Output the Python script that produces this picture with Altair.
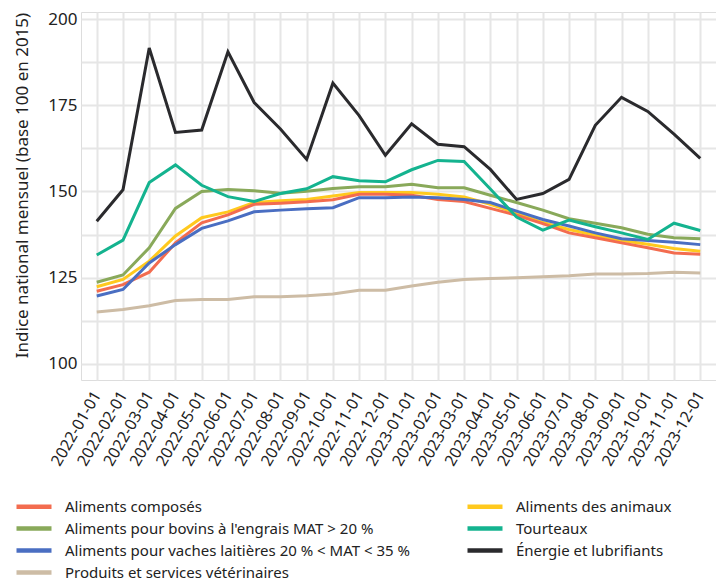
import altair as alt
import pandas as pd

mois = [
    "2022-01-01", "2022-02-01", "2022-03-01", "2022-04-01", "2022-05-01", "2022-06-01",
    "2022-07-01", "2022-08-01", "2022-09-01", "2022-10-01", "2022-11-01", "2022-12-01",
    "2023-01-01", "2023-02-01", "2023-03-01", "2023-04-01", "2023-05-01", "2023-06-01",
    "2023-07-01", "2023-08-01", "2023-09-01", "2023-10-01", "2023-11-01", "2023-12-01",
]

aliments_composes = [121.1, 123.0, 126.6, 135.1, 140.9, 143.2, 146.3, 146.6, 147.0, 147.6, 149.2, 149.2,
                     148.9, 147.7, 147.1, 145.1, 143.1, 140.7, 138.0, 136.6, 135.1, 133.7, 132.2, 131.8]
aliments_animaux = [122.4, 124.5, 129.8, 137.1, 142.4, 144.1, 146.8, 147.3, 147.7, 148.7, 149.7, 149.7,
                    149.7, 149.2, 148.4, 146.3, 143.7, 141.0, 139.0, 137.3, 135.8, 134.7, 133.5, 132.7]
aliments_bovins = [123.7, 125.8, 133.7, 145.1, 150.0, 150.6, 150.2, 149.5, 150.1, 150.9, 151.4, 151.4,
                   152.1, 151.1, 151.1, 148.9, 146.8, 144.6, 142.1, 140.8, 139.5, 137.6, 136.6, 136.3]
aliments_vaches = [119.7, 121.6, 129.3, 134.6, 139.3, 141.5, 144.1, 144.6, 145.0, 145.3, 148.2, 148.2,
                   148.4, 148.2, 147.7, 146.8, 144.3, 141.9, 140.0, 138.0, 136.3, 135.8, 135.3, 134.6]
veterinaires = [115.1, 115.8, 116.9, 118.4, 118.7, 118.7, 119.5, 119.5, 119.8, 120.3, 121.4, 121.4,
                122.6, 123.7, 124.5, 124.8, 125.0, 125.3, 125.6, 126.1, 126.1, 126.2, 126.6, 126.4]
tourteaux = [131.6, 135.9, 152.6, 157.7, 151.8, 148.5, 147.1, 149.4, 150.8, 154.3, 153.1, 152.8,
             156.3, 159.0, 158.7, 150.7, 142.6, 138.8, 141.7, 139.8, 138.0, 136.1, 140.8, 138.7]
energie = [141.4, 150.5, 191.6, 167.1, 167.8, 190.5, 175.8, 168.1, 159.3, 181.4, 172.0, 160.5,
           169.6, 163.7, 163.0, 156.4, 147.7, 149.4, 153.5, 169.2, 177.3, 173.2, 166.6, 159.6]

S_COMP = "Aliments composés"
S_ANIM = "Aliments des animaux"
S_BOV = "Aliments pour bovins à l'engrais MAT > 20 %"
S_TOUR = "Tourteaux"
S_VACH = "Aliments pour vaches laitières 20 % < MAT < 35 %"
S_ENER = "Énergie et lubrifiants"
S_VET = "Produits et services vétérinaires"

series = {
    S_COMP: aliments_composes,
    S_ANIM: aliments_animaux,
    S_BOV: aliments_bovins,
    S_VACH: aliments_vaches,
    S_VET: veterinaires,
    S_TOUR: tourteaux,
    S_ENER: energie,
}

# legend is filled column by column (4 rows)
legend_order = [S_COMP, S_BOV, S_VACH, S_VET, S_ANIM, S_TOUR, S_ENER]
colors = ["#F36C4F", "#89A95A", "#4A6EC2", "#CDBCA5", "#FFC91E", "#14B38F", "#2A2A2D"]
draw_order = [S_BOV, S_ANIM, S_COMP, S_VACH, S_VET, S_TOUR, S_ENER]

rows = []
for name, vals in series.items():
    for m, v in zip(mois, vals):
        rows.append({"mois": m, "valeur": v, "serie": name})
df = pd.DataFrame(rows)

grid_color = "#E6E6E6"
txt_color = "#222222"
y_grid_values = [100, 112.5, 125, 137.5, 150, 162.5, 175, 187.5, 200]

base = alt.Chart(df).mark_line(strokeWidth=3).encode(
    x=alt.X(
        "mois:O",
        sort=mois,
        scale=alt.Scale(type="point", padding=0.6),
        axis=alt.Axis(
            title=None, labelAngle=-60, labelAlign="right", labelBaseline="middle",
            labelPadding=12, ticks=False, domain=False, grid=True,
            gridColor=grid_color, gridWidth=2, labelFontSize=16, labelColor=txt_color,
        ),
    ),
    y=alt.Y(
        "valeur:Q",
        scale=alt.Scale(domain=[95.36, 202.03], nice=False, zero=False),
        axis=alt.Axis(
            title="Indice national mensuel (base 100 en 2015)",
            values=y_grid_values,
            labelExpr="datum.value % 25 == 0 ? datum.label : ''",
            ticks=False, domain=False, grid=True, gridColor=grid_color, gridWidth=2,
            labelFontSize=17, labelColor=txt_color, labelPadding=4,
            titleFontSize=17, titleFontWeight="normal", titleColor=txt_color, titlePadding=16,
            titleY=173,
        ),
    ),
    color=alt.Color(
        "serie:N",
        scale=alt.Scale(domain=legend_order, range=colors),
        legend=alt.Legend(
            title=None, orient="none", legendX=-54.5, legendY=487, columns=2,
            symbolType="M-3.5,0H3.5", symbolStrokeWidth=4.5, symbolSize=100,
            labelFontSize=15, labelOffset=23.5, labelLimit=600, labelColor=txt_color,
            rowPadding=3, columnPadding=48,
        ),
    ),
)

layers = [base.transform_filter(alt.datum.serie == s) for s in draw_order]

chart = alt.layer(*layers).properties(
    width=635, height=368,
    padding={"left": 5, "top": 2, "right": 0, "bottom": 0},
).configure_view(stroke=None).configure(font="Noto Sans")

chart.save("out.html", embed_options={"renderer": "svg", "actions": False})
